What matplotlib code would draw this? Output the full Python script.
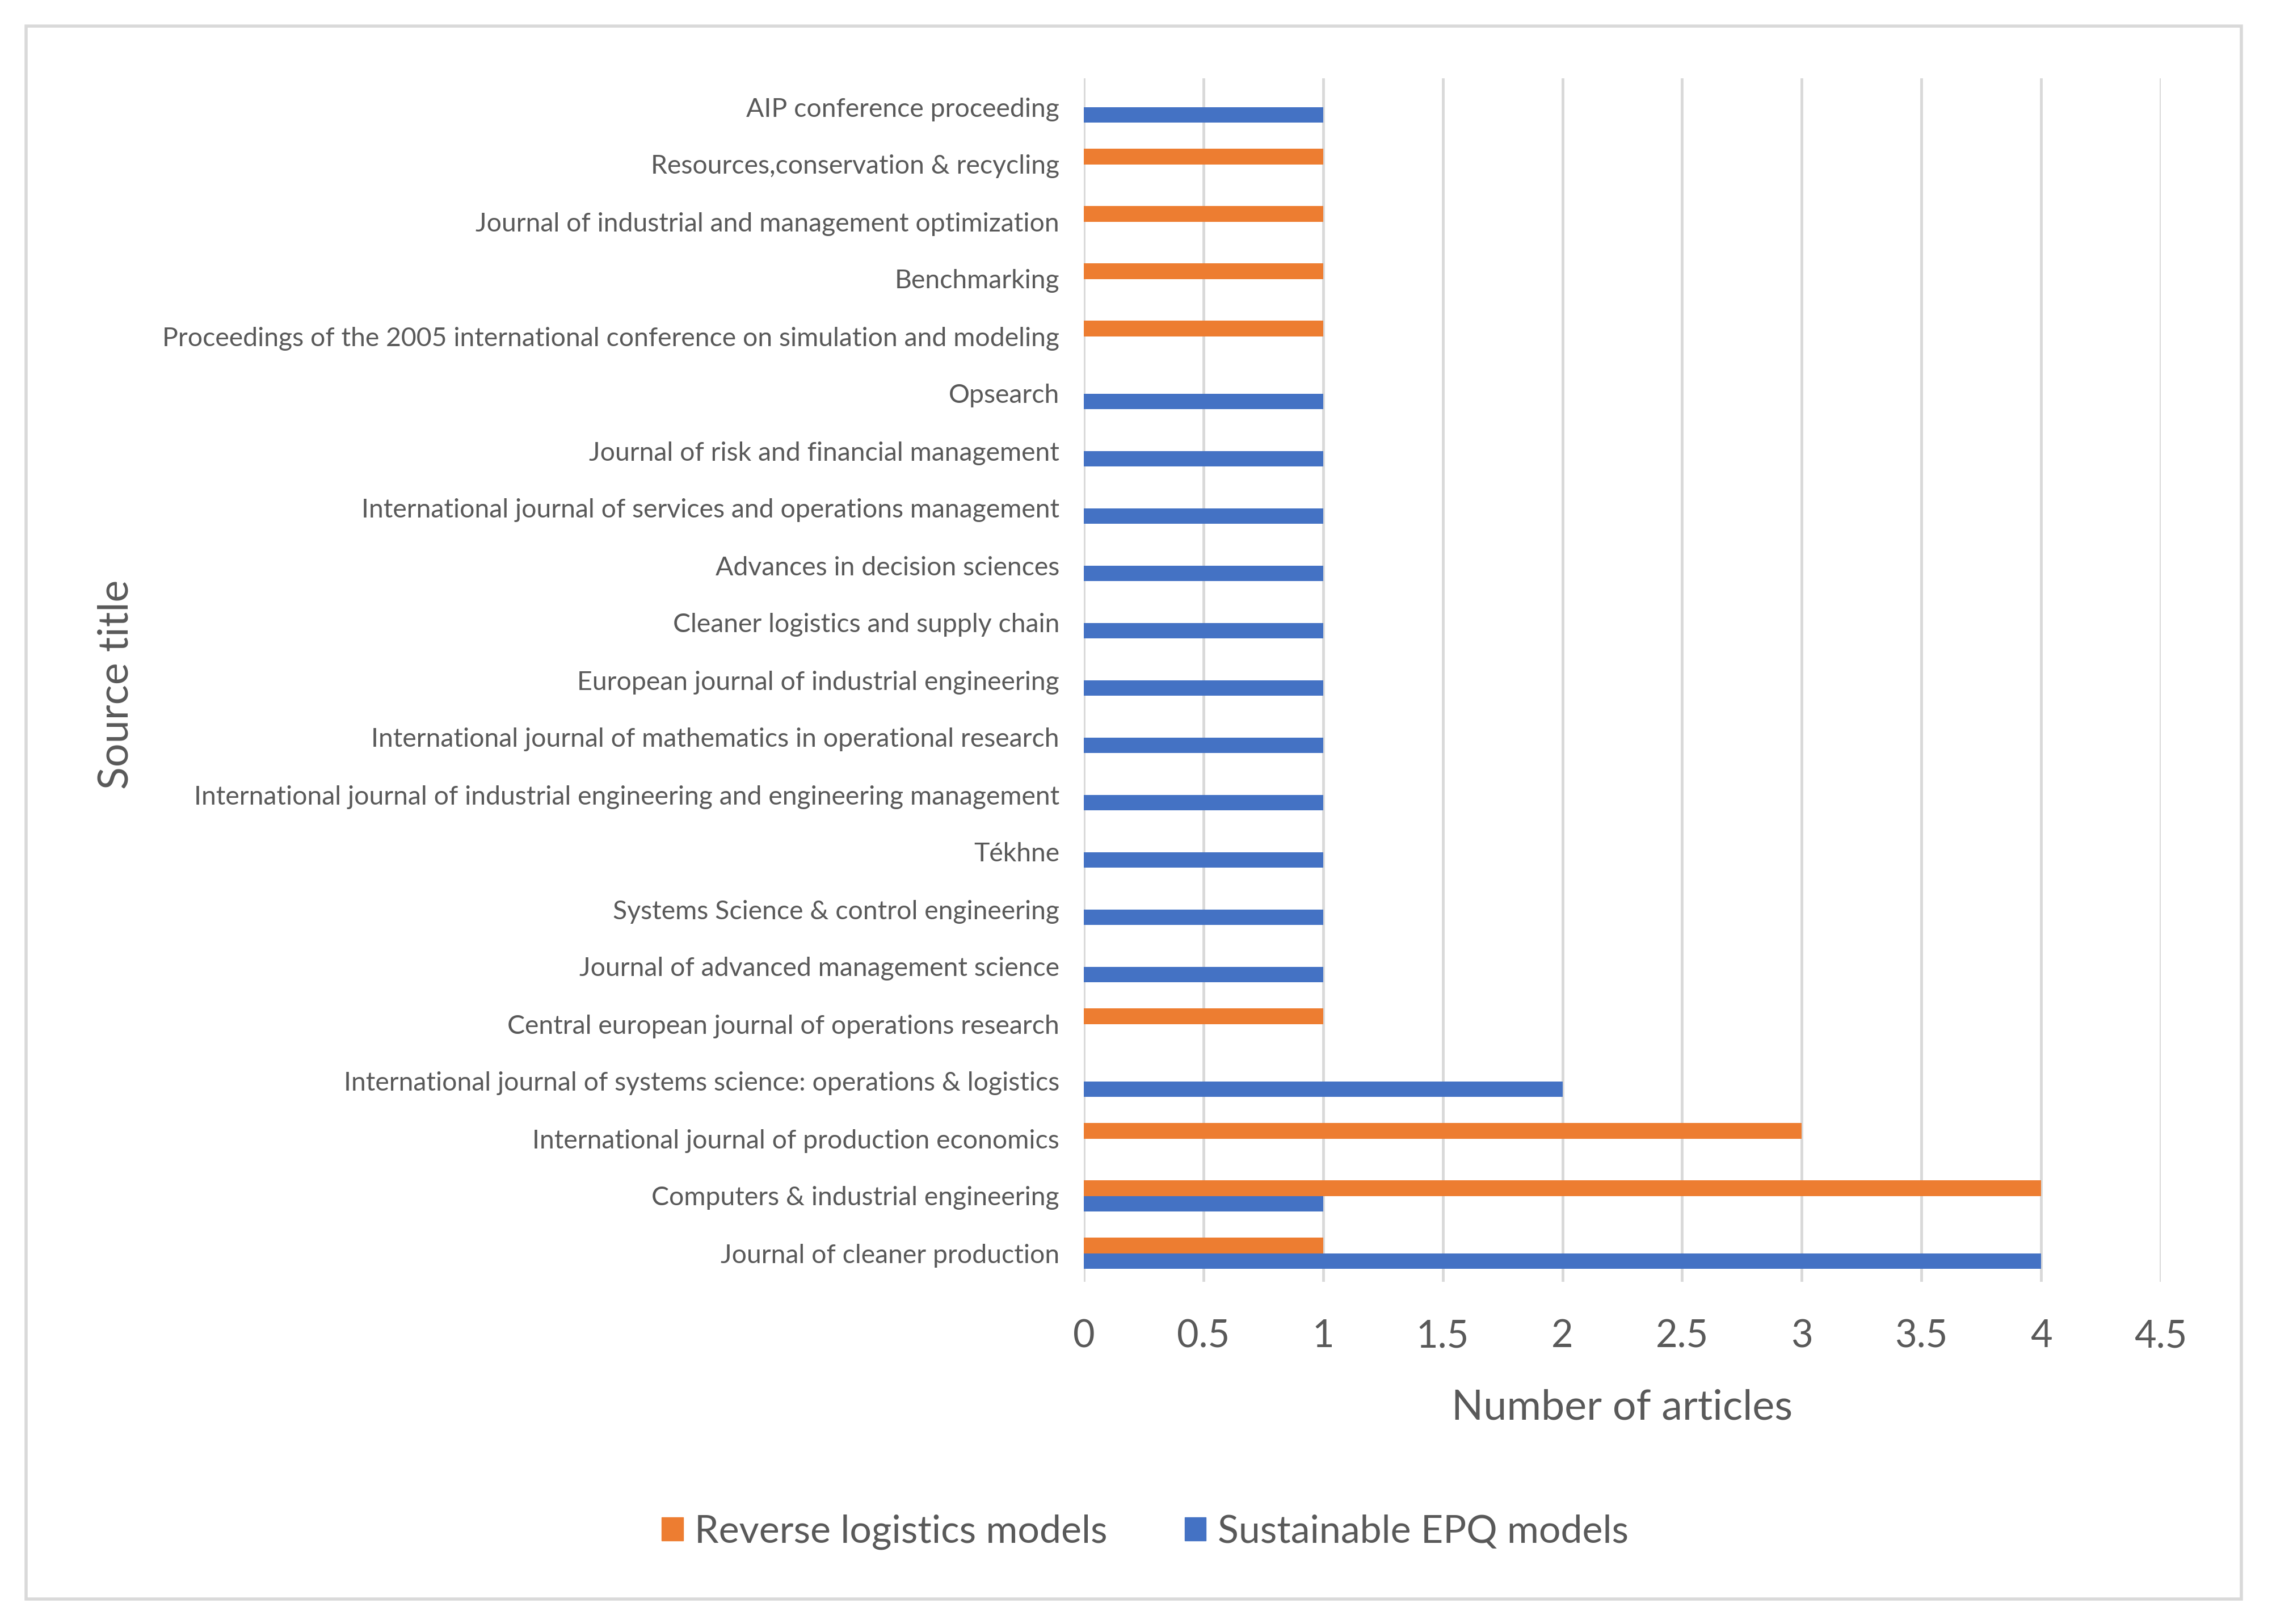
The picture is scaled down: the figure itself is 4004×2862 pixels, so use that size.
import matplotlib
matplotlib.use("Agg")
import matplotlib.pyplot as plt
from matplotlib.patches import Rectangle, Patch
import numpy as np

# data (bottom to top as drawn)
sources = [
    "Journal of cleaner production",
    "Computers & industrial engineering",
    "International journal of production economics",
    "International journal of systems science: operations & logistics",
    "Central european journal of operations research",
    "Journal of advanced management science",
    "Systems Science & control engineering",
    "Tékhne",
    "International journal of industrial engineering and engineering management",
    "International journal of mathematics in operational research",
    "European journal of industrial engineering",
    "Cleaner logistics and supply chain",
    "Advances in decision sciences",
    "International journal of services and operations management",
    "Journal of risk and financial management",
    "Opsearch",
    "Proceedings of the 2005 international conference on simulation and modeling",
    "Benchmarking",
    "Journal of industrial and management optimization",
    "Resources,conservation & recycling",
    "AIP conference proceeding",
]
reverse_logistics = [1, 4, 3, 0, 1, 0, 0, 0, 0, 0, 0, 0, 0, 0, 0, 0, 1, 1, 1, 1, 0]
sustainable_epq = [4, 1, 0, 2, 0, 1, 1, 1, 1, 1, 1, 1, 1, 1, 1, 1, 0, 0, 0, 0, 1]
xticks = [0, 0.5, 1, 1.5, 2, 2.5, 3, 3.5, 4, 4.5]

ORANGE = "#ED7D31"
BLUE = "#4472C4"
GRID = "#D9D9D9"
TXT = "#595959"

plt.rcParams["font.family"] = ["Lato", "DejaVu Sans"]

W, H = 4004, 2862
fig = plt.figure(figsize=(W / 100, H / 100), dpi=100)
fig.patch.set_facecolor("white")

# outer chart border
fig.patches.append(Rectangle((46 / W, 1 - 2818 / H), (3950 - 46) / W, (2818 - 46) / H,
                             transform=fig.transFigure, fill=False,
                             edgecolor=GRID, linewidth=4))

ax = fig.add_axes([1910 / W, 1 - 2259 / H, (3808 - 1910) / W, (2259 - 138) / H])

y = np.arange(len(sources))
bh = 0.27
ax.barh(y + bh / 2, reverse_logistics, height=bh, color=ORANGE, zorder=3)
ax.barh(y - bh / 2, sustainable_epq, height=bh, color=BLUE, zorder=3)

ax.set_xlim(0, 4.5)
ax.set_ylim(-0.5, len(sources) - 0.5)
ax.set_xticks(xticks)
ax.set_xticklabels([f"{t:g}" for t in xticks])
ax.set_yticks(y)
ax.set_yticklabels(sources)

ax.grid(axis="x", color=GRID, linewidth=3.5, zorder=0)
ax.set_axisbelow(True)
for s in ax.spines.values():
    s.set_visible(False)

ax.tick_params(axis="y", length=0, pad=31, labelsize=33.4, labelcolor=TXT)
ax.tick_params(axis="x", length=0, pad=47, labelsize=48, labelcolor=TXT)

ax.set_xlabel("Number of articles", fontsize=53, color=TXT, labelpad=44)
fig.text(205 / W, 1 - 1206 / H, "Source title", rotation=90, fontsize=53,
         color=TXT, ha="center", va="center")

handles = [Patch(color=ORANGE, label="Reverse logistics models"),
           Patch(color=BLUE, label="Sustainable EPQ models")]
leg = fig.legend(handles=handles, loc="center", bbox_to_anchor=(0.504, 1 - 2700 / H),
                 ncol=2, frameon=False, fontsize=49, handlelength=0.55, handleheight=0.55,
                 handletextpad=0.3, columnspacing=2.0)
for t in leg.get_texts():
    t.set_color(TXT)

fig.savefig("out.png", dpi=100, facecolor="white")
